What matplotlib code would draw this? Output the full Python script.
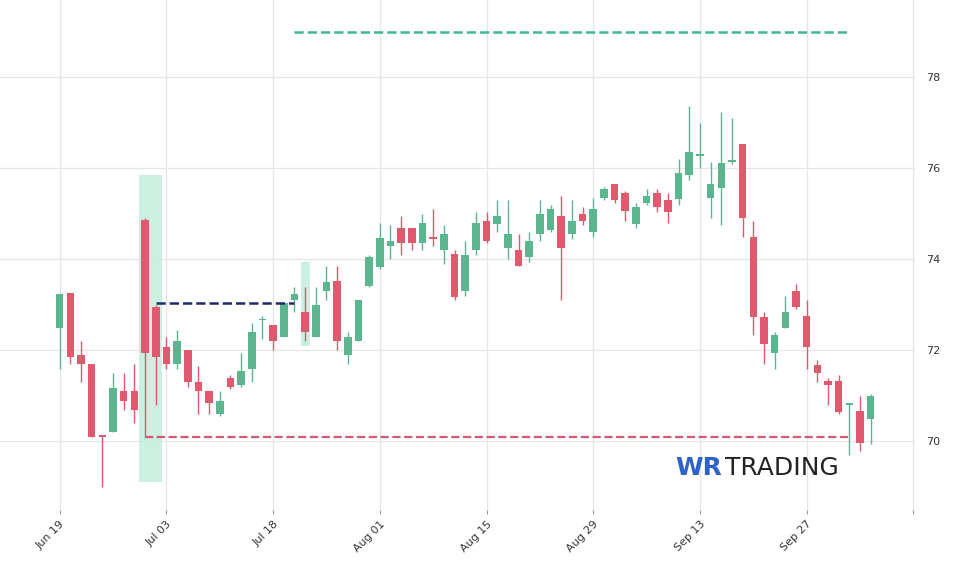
import numpy as np
import matplotlib.pyplot as plt

# OHLC values (one per trading day)
opens = [72.5, 73.26, 71.9, 71.7, 70.12, 70.2, 71.1, 71.1, 74.87, 72.95,
         72.07, 71.7, 72.0, 71.3, 71.1, 70.6, 71.4, 71.25, 71.6, 72.66,
         72.55, 72.3, 73.1, 72.85, 72.3, 73.3, 73.52, 71.9, 72.2, 73.42,
         73.83, 74.3, 74.7, 74.7, 74.35, 74.47, 74.2, 74.13, 73.3, 74.2,
         74.85, 74.78, 74.25, 74.2, 74.05, 74.55, 74.65, 74.95, 74.55, 75.0,
         74.6, 75.35, 75.65, 75.45, 74.78, 75.25, 75.45, 75.3, 75.32, 75.85,
         76.28, 75.35, 75.57, 76.15, 76.54, 74.5, 72.73, 71.95, 72.5, 73.3,
         72.75, 71.67, 71.32, 71.32, 70.8, 70.66, 70.5]
closes = [73.25, 71.86, 71.7, 70.1, 70.1, 71.17, 70.9, 70.7, 71.94, 71.85,
          71.7, 72.2, 71.3, 71.1, 70.85, 70.9, 71.2, 71.55, 72.4, 72.68,
          72.2, 73.05, 73.25, 72.4, 73.0, 73.5, 72.2, 72.3, 73.1, 74.05,
          74.47, 74.4, 74.37, 74.37, 74.8, 74.45, 74.55, 73.17, 74.1, 74.8,
          74.4, 74.95, 74.55, 73.85, 74.4, 75.0, 75.1, 74.25, 74.85, 74.85,
          75.1, 75.55, 75.3, 75.07, 75.15, 75.4, 75.15, 75.05, 75.9, 76.35,
          76.3, 75.65, 76.12, 76.17, 74.9, 72.73, 72.14, 72.35, 72.85, 72.95,
          72.07, 71.5, 71.23, 70.64, 70.81, 69.96, 71.0]
highs = [73.26, 73.26, 72.2, 71.7, 70.15, 71.5, 71.5, 71.7, 74.9, 73.0,
         72.3, 72.45, 72.0, 71.65, 71.1, 71.1, 71.45, 71.95, 72.6, 72.75,
         72.55, 73.05, 73.4, 73.4, 73.4, 73.85, 73.85, 72.4, 73.1, 74.1,
         74.8, 74.75, 74.95, 74.7, 75.0, 75.1, 74.75, 74.2, 74.4, 75.05,
         75.05, 75.3, 75.3, 74.55, 74.6, 75.3, 75.2, 75.4, 75.3, 75.15,
         75.35, 75.6, 75.65, 75.5, 75.25, 75.55, 75.55, 75.45, 76.2, 77.36,
         77.0, 76.15, 77.25, 77.1, 76.54, 74.85, 72.85, 72.4, 73.2, 73.45,
         73.1, 71.8, 71.4, 71.45, 70.85, 71.0, 71.05]
lows = [71.6, 71.7, 71.3, 70.1, 69.0, 70.2, 70.7, 70.4, 70.1, 70.8,
        71.6, 71.6, 71.2, 70.6, 70.6, 70.55, 71.15, 71.2, 71.3, 72.25,
        72.0, 72.3, 72.85, 72.2, 72.3, 73.1, 72.0, 71.7, 72.2, 73.4,
        73.8, 74.0, 74.1, 74.2, 74.2, 74.3, 73.9, 73.1, 73.2, 74.1,
        74.35, 74.6, 74.0, 73.85, 73.95, 74.4, 74.6, 73.1, 74.45, 74.75,
        74.5, 75.3, 75.25, 74.85, 74.7, 75.2, 75.05, 74.8, 75.2, 75.75,
        76.0, 74.9, 74.75, 76.1, 74.5, 72.35, 71.7, 71.6, 72.5, 72.9,
        71.6, 71.3, 70.8, 70.6, 69.7, 69.8, 69.95]

tick_labels = ['Jun 19', 'Jul 03', 'Jul 18', 'Aug 01', 'Aug 15', 'Aug 29', 'Sep 13', 'Sep 27', '']
tick_pos = [0, 10, 20, 30, 40, 50, 60, 70, 80]

support_level = 70.1
breakout_level = 73.05
target_level = 79.0

green = '#5bb58f'
red = '#df5a6e'
shade = '#c6eedd'

fig = plt.figure(figsize=(9.6, 5.62), dpi=100)
ax = fig.add_axes([0.0, 0.093, 0.953, 0.907])

x = np.arange(len(opens))
o = np.array(opens); c = np.array(closes)
up = c >= o
colors = np.where(up, green, red)
ax.vlines(x, lows, highs, colors=colors, linewidth=1.0, zorder=3)
ax.bar(x, np.maximum(np.abs(c - o), 0.04), bottom=np.minimum(o, c),
       width=0.7, color=colors, zorder=4)

# highlighted candles
ax.fill_between([7.45, 9.55], 69.1, 75.85, color=shade, alpha=0.9, zorder=1, linewidth=0)
ax.fill_between([22.6, 23.5], 72.1, 73.95, color=shade, alpha=0.9, zorder=1, linewidth=0)

ax.hlines(breakout_level, 9, 22, colors='#1f2a6b', linestyles='--', linewidth=1.8, zorder=5)
ax.hlines(support_level, 8, 74, colors='#d25a72', linestyles='--', linewidth=1.6, zorder=5)
ax.hlines(target_level, 22, 74, colors='#3dbb8e', linestyles='--', linewidth=1.8, zorder=5)

ax.set_xlim(-5.6, 80.15)
ax.set_ylim(68.5, 79.7)
ax.set_xticks(tick_pos)
ax.set_xticklabels(tick_labels, rotation=45, ha='right', rotation_mode='anchor', fontsize=8, color='#333333')
ax.set_yticks([70, 72, 74, 76, 78])
ax.yaxis.tick_right()
ax.tick_params(axis='y', labelsize=8, colors='#333333', length=0, pad=8)
ax.tick_params(axis='x', length=3, color='#999999')
ax.grid(True, color='#e6e6e6', linewidth=0.9)
ax.set_axisbelow(True)
for s in ax.spines.values():
    s.set_visible(False)

fig.text(0.703, 0.155, 'WR', fontsize=18, fontweight='bold', color='#2f62c8', family='DejaVu Sans')
fig.text(0.755, 0.155, 'TRADING', fontsize=18, color='#222222', family='DejaVu Sans')

fig.savefig('out.png', dpi=100, facecolor='white')
